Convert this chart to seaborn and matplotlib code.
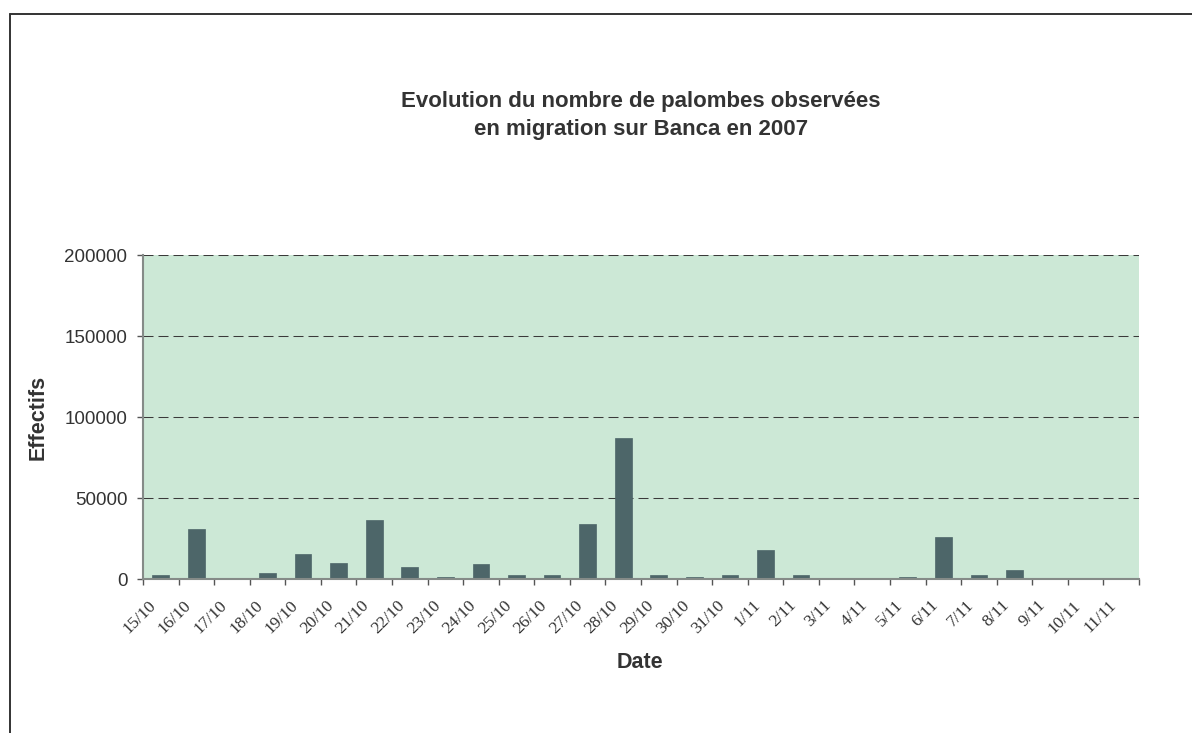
"""Migration des palombes sur Banca, 2007 - bar chart in the old Excel look."""

import matplotlib

matplotlib.use("Agg")

import matplotlib.pyplot as plt
import matplotlib.ticker as mticker
import pandas as pd
import seaborn as sns
from matplotlib.lines import Line2D
from matplotlib.transforms import ScaledTranslation

dates = [
    "15/10", "16/10", "17/10", "18/10", "19/10", "20/10", "21/10", "22/10",
    "23/10", "24/10", "25/10", "26/10", "27/10", "28/10", "29/10", "30/10",
    "31/10", "1/11", "2/11", "3/11", "4/11", "5/11", "6/11", "7/11",
    "8/11", "9/11", "10/11", "11/11",
]
effectifs = [
    2800, 31000, 0, 3900, 15400, 10000, 36400, 7600,
    1400, 9300, 2500, 2500, 34000, 87000, 2500, 1400,
    2500, 17900, 2500, 0, 0, 1400, 26100, 2500,
    5700, 0, 0, 0,
]
y_ticks = [0, 50000, 100000, 150000, 200000]

_BAR_COLOR = "#4d6669"
_PLOT_BG = "#cce8d6"
_TEXT = "#333333"

sns.set_theme(style="white")
plt.rcParams["font.family"] = ["Liberation Sans", "DejaVu Sans"]

df = pd.DataFrame({"Date": dates, "Effectifs": effectifs})

W, H = 1192, 733
fig = plt.figure(figsize=(W / 100, H / 100), dpi=100)
ax = fig.add_axes([143 / W, 1 - 579.3 / H, (1139 - 143) / W, (579.3 - 255) / H])
ax.set_facecolor(_PLOT_BG)

sns.barplot(
    data=df, x="Date", y="Effectifs", order=dates, color=_BAR_COLOR,
    saturation=1, width=0.47, edgecolor=_BAR_COLOR, linewidth=0.5, ax=ax, zorder=3,
)

ax.set_xlim(-0.5, len(dates) - 0.5)
ax.set_ylim(y_ticks[0], y_ticks[-1])
ax.set_yticks(y_ticks)
ax.yaxis.set_major_formatter(mticker.FuncFormatter(lambda v, _: f"{int(v)}"))

# dashed horizontal gridlines like Excel
ax.yaxis.grid(True, color="#3a3a3a", linewidth=0.75, linestyle=(0, (9.6, 4.8)), zorder=1)
ax.set_axisbelow(True)

for side in ("top", "right"):
    ax.spines[side].set_visible(False)
for side in ("left", "bottom"):
    ax.spines[side].set_color("#858b88")
    ax.spines[side].set_linewidth(1.5)
    ax.spines[side].set_zorder(4)

# tick marks at category boundaries, labels offset a little to the left
ax.set_xticks([i - 0.5 for i in range(len(dates) + 1)], minor=True)
ax.tick_params(axis="x", which="minor", direction="out", length=4.3, width=1,
               color="#555555", bottom=True)
ax.tick_params(axis="x", which="major", length=0, pad=13)
ax.set_xticks(range(len(dates)))
ax.set_xticklabels(dates, rotation=45, ha="right", va="top", rotation_mode="anchor",
                   family=["Liberation Serif", "DejaVu Serif"], fontsize=12.5, color=_TEXT)
shift = ScaledTranslation(-13 / 100, 0, fig.dpi_scale_trans)
for lbl in ax.get_xticklabels():
    lbl.set_transform(lbl.get_transform() + shift)

ax.tick_params(axis="y", direction="out", length=4.3, width=1, color="#555555",
               left=True, pad=7, labelsize=13.5, labelcolor=_TEXT)

ax.set_xlabel("")
ax.set_ylabel("")

fig.text(640 / W, 1 - 662 / H, "Date", ha="center", va="center",
         fontsize=15.5, fontweight="bold", color=_TEXT)
fig.text(38 / W, 1 - 417 / H, "Effectifs", ha="center", va="center", rotation=90,
         fontsize=15.5, fontweight="bold", color=_TEXT)
fig.text(641 / W, 1 - 115.5 / H,
         "Evolution du nombre de palombes observées\nen migration sur Banca en 2007",
         ha="center", va="center", multialignment="center", linespacing=1.4,
         fontsize=16, fontweight="bold", color=_TEXT)

# outer chart border (left and top edges are visible in the crop)
x0, y0 = 9.5 / W, 1 - 13.5 / H
fig.add_artist(Line2D([x0, x0], [0, y0], color="#333333", linewidth=1.4))
fig.add_artist(Line2D([x0, 1], [y0, y0], color="#333333", linewidth=1.4))

fig.savefig("out.png", dpi=100)
